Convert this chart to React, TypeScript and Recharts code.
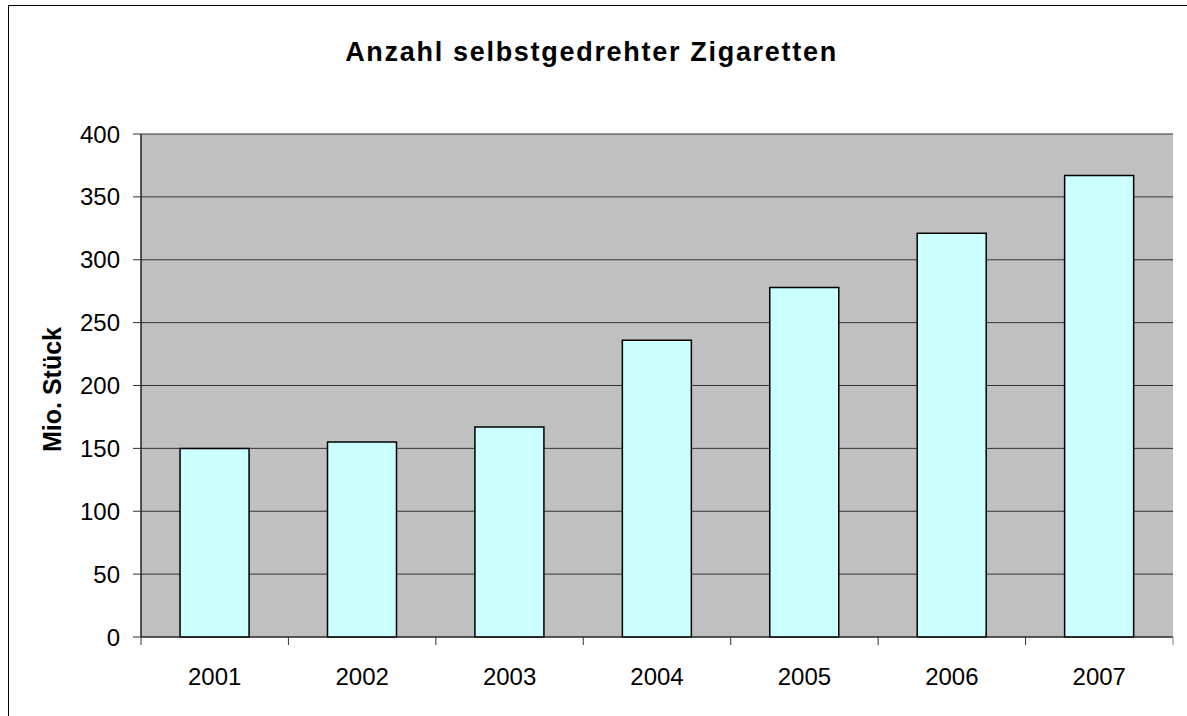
import React from 'react';
import { BarChart, Bar, XAxis, YAxis, CartesianGrid, Label } from 'recharts';

const title = 'Anzahl selbstgedrehter Zigaretten';
const yLabel = 'Mio. Stück';
const years = ['2001', '2002', '2003', '2004', '2005', '2006', '2007'];
const values = [150, 155, 167, 236, 278, 321, 367];
const yTicks = [0, 50, 100, 150, 200, 250, 300, 350, 400];

const data = years.map((y, i) => ({ year: y, value: values[i] }));

const W = 1187;
const H = 716;
const MARGIN = { top: 134, right: 14, bottom: 49, left: 0 };
const Y_W = 141;
const X_H = 30;
const FONT = '"Liberation Sans", Arial, sans-serif';

const band = (W - MARGIN.left - MARGIN.right - Y_W) / years.length;

const XTick = (props: any) => {
  const { x, y, payload, index } = props;
  const left = x - band / 2;
  return (
    <g>
      <line x1={left} y1={y} x2={left} y2={y + 8} stroke="#333" strokeWidth={1} />
      {index === years.length - 1 && (
        <line x1={left + band} y1={y} x2={left + band} y2={y + 8} stroke="#808080" strokeWidth={1} />
      )}
      <text x={x} y={y + 48} textAnchor="middle" fontFamily={FONT} fontSize={24} fill="#000">
        {payload.value}
      </text>
    </g>
  );
};

const YLabel = (props: any) => {
  const vb = props.viewBox || { x: 0, y: 0, width: 0, height: 0 };
  const cx = 52;
  const cy = vb.y + vb.height / 2 + 4;
  return (
    <text
      x={cx}
      y={cy}
      transform={`rotate(-90, ${cx}, ${cy})`}
      textAnchor="middle"
      dominantBaseline="central"
      fontFamily={FONT}
      fontSize={25}
      fontWeight="bold"
      fill="#000"
    >
      {yLabel}
    </text>
  );
};

export default function App() {
  return (
    <div style={{ position: 'absolute', left: 0, top: 0, width: W, height: H, overflow: 'hidden', background: '#fff' }}>
      <div
        style={{
          position: 'absolute',
          left: 8,
          top: 5,
          width: 1300,
          height: 900,
          border: '1.5px solid #000',
          boxSizing: 'border-box',
        }}
      />
      <div
        style={{
          position: 'absolute',
          left: 591.5 - 400,
          width: 800,
          top: 38.8,
          textAlign: 'center',
          fontFamily: FONT,
          fontWeight: 'bold',
          fontSize: 27,
          lineHeight: '27px',
          letterSpacing: 1.7,
          color: '#000',
          whiteSpace: 'nowrap',
        }}
      >
        {title}
      </div>
      <div style={{ position: 'absolute', left: 0, top: 0 }}>
        <BarChart width={W} height={H} data={data} margin={MARGIN} barCategoryGap="26.5%">
          <CartesianGrid
            vertical={false}
            stroke="#333"
            strokeWidth={1}
            fill="#C0C0C0"
            fillOpacity={1}
            yAxisId="left"
          />
          <XAxis
            dataKey="year"
            xAxisId="bottom"
            height={X_H}
            axisLine={{ stroke: '#222', strokeWidth: 1 }}
            tickLine={false}
            tickSize={0}
            tickMargin={0}
            tick={<XTick />}
            interval={0}
          />
          <XAxis
            dataKey="year"
            xAxisId="top"
            orientation="top"
            height={0}
            axisLine={{ stroke: '#808080', strokeWidth: 1.5 }}
            tick={false}
            tickLine={false}
          />
          <YAxis
            yAxisId="left"
            width={Y_W}
            domain={[0, 400]}
            ticks={yTicks}
            interval={0}
            axisLine={{ stroke: '#222', strokeWidth: 1.5 }}
            tickLine={{ stroke: '#333', strokeWidth: 1 }}
            tickSize={8}
            tickMargin={13}
            tick={{ fontFamily: FONT, fontSize: 24, fill: '#000' }}
          >
            <Label content={<YLabel />} />
          </YAxis>
          <YAxis
            yAxisId="right"
            orientation="right"
            width={0}
            domain={[0, 400]}
            axisLine={{ stroke: '#808080', strokeWidth: 1.5 }}
            tick={false}
            tickLine={false}
          />
          <Bar
            dataKey="value"
            xAxisId="bottom"
            yAxisId="left"
            fill="#CCFFFF"
            stroke="#000"
            strokeWidth={1.5}
            isAnimationActive={false}
          />
        </BarChart>
      </div>
    </div>
  );
}
